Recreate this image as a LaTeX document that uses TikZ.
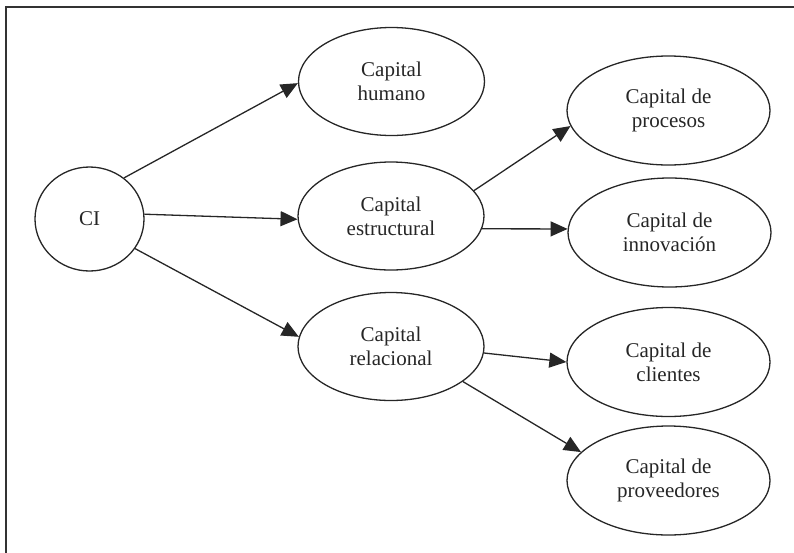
\documentclass[tikz,border=0pt]{standalone}
\usepackage{fontspec}
\setmainfont{Liberation Serif}
\usetikzlibrary{shapes.geometric,arrows.meta}
\begin{document}
\begin{tikzpicture}[x=1pt,y=-1pt,
  ell/.style={draw=black!85,line width=1.3pt,ellipse,inner sep=0pt,align=center,
    text=black!85,font=\fontsize{21}{24}\selectfont},
  small/.style={ell,minimum width=109pt,minimum height=104pt},
  mid/.style={ell,minimum width=186pt,minimum height=108pt},
  big/.style={ell,minimum width=203pt,minimum height=109pt},
  conn/.style={draw=black!85,line width=1.3pt,-{Triangle[length=17pt,width=15pt]}}]
\useasboundingbox (0,0) rectangle (794,552);
\draw[line width=1.3pt,black!80] (6,560) -- (6,7) -- (800,7);
\node[small] (ci) at (89.5,219) {CI};
\node[mid] (hum) at (391.5,81.5) {Capital\\humano};
\node[mid] (est) at (391,216) {Capital\\estructural};
\node[mid] (rel) at (391,346.5) {Capital\\relacional};
\node[big] (pro) at (668.5,110.5) {Capital de\\procesos};
\node[big] (inn) at (669.5,232.5) {Capital de\\innovación};
\node[big] (cli) at (668.5,362) {Capital de\\clientes};
\node[big] (prv) at (668.5,480.5) {Capital de\\proveedores};
\draw[conn] (ci.50) -- (hum.181.5);
\draw[conn] (ci.5) -- (est.182);
\draw[conn] (ci.-33) -- (rel.174);
\draw[conn] (est.17) -- (pro.189.7);
\draw[conn] (est.-8) -- (inn.178);
\draw[conn] (rel.-4.6) -- (cli.180);
\draw[conn] (rel.-26) -- (prv.162.5);
\end{tikzpicture}
\end{document}
